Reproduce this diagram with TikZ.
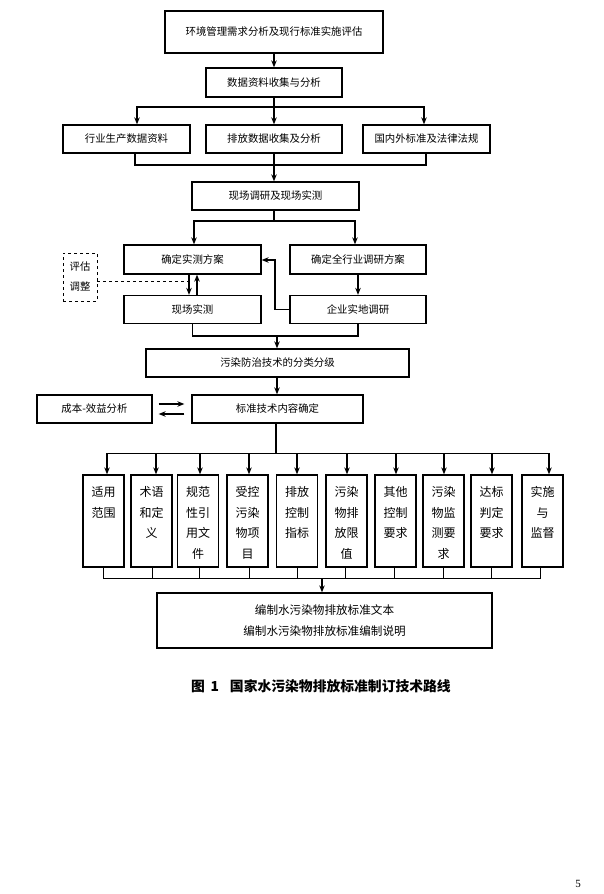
\documentclass[tikz,border=0pt]{standalone}
\usepackage{fontspec}
\setmainfont{Liberation Serif}
\newfontfamily\cjk{Noto Sans CJK SC}
\usetikzlibrary{arrows.meta,calc}
\begin{document}
\begin{tikzpicture}[x=1pt,y=-1pt,
  box/.style={draw, line width=1.3pt, inner sep=0pt, align=center,
    font=\cjk\fontsize{10.4}{20}\selectfont},
  gbox/.style={draw, line width=1.3pt, inner sep=0pt, minimum width=41pt, minimum height=92pt},
  gtext/.style={inner sep=0pt, anchor=north, align=center, font=\cjk\fontsize{12}{20.5}\selectfont},
  arr/.style={-{Stealth[length=7pt,width=5.5pt]}, line width=1.1pt},
  ln/.style={line width=1.1pt},
  thinln/.style={line width=0.8pt}]
\fill[white] (0,0) rectangle (604,894);
\useasboundingbox (0,0) rectangle (604,894);

% boxes
\node[box,minimum width=218pt,minimum height=42pt] (b1) at (274,32) {环境管理需求分析及现行标准实施评估};
\node[box,minimum width=136pt,minimum height=29pt] (b2) at (274,82.5) {数据资料收集与分析};
\node[box,minimum width=127pt,minimum height=28pt] (b3a) at (126.5,139) {行业生产数据资料};
\node[box,minimum width=136pt,minimum height=28pt] (b3b) at (274,139) {排放数据收集及分析};
\node[box,minimum width=127pt,minimum height=28pt] (b3c) at (426.5,139) {国内外标准及法律法规};
\node[box,minimum width=167pt,minimum height=28pt] (b4) at (275.5,196) {现场调研及现场实测};
\node[box,minimum width=137pt,minimum height=29pt] (b5a) at (192.5,259.5) {确定实测方案};
\node[box,minimum width=136pt,minimum height=29pt] (b5b) at (358,259.5) {确定全行业调研方案};
\node[box,minimum width=137pt,minimum height=28pt] (b6a) at (192.5,309.5) {现场实测};
\node[box,minimum width=136pt,minimum height=28pt] (b6b) at (358,309.5) {企业实地调研};
\node[box,dashed,line width=0.9pt,minimum width=34pt,minimum height=48pt] (pg) at (80,277) {评估\\调整};
\node[box,minimum width=263pt,minimum height=28pt] (b7) at (277.5,363) {污染防治技术的分类分级};
\node[box,minimum width=171pt,minimum height=28pt] (b8) at (277.5,409) {标准技术内容确定};
\node[box,minimum width=115pt,minimum height=28pt] (b9) at (94.5,409) {成本-效益分析};

% grid boxes
\node[gbox] (g1) at (103.5,521) {};
\node[gbox] (g2) at (151.5,521) {};
\node[gbox] (g3) at (198,521) {};
\node[gbox] (g4) at (247.5,521) {};
\node[gbox] (g5) at (297,521) {};
\node[gbox] (g6) at (346.5,521) {};
\node[gbox] (g7) at (395.5,521) {};
\node[gbox] (g8) at (443.5,521) {};
\node[gbox] (g9) at (491.5,521) {};
\node[gbox] (g10) at (542.5,521) {};
\node[gtext] (t1) at ($(g1.north)+(0,12)$) {适用\\范围};
\node[gtext] (t2) at ($(g2.north)+(0,12)$) {术语\\和定\\义};
\node[gtext] (t3) at ($(g3.north)+(0,12)$) {规范\\性引\\用文\\件};
\node[gtext] (t4) at ($(g4.north)+(0,12)$) {受控\\污染\\物项\\目};
\node[gtext] (t5) at ($(g5.north)+(0,12)$) {排放\\控制\\指标};
\node[gtext] (t6) at ($(g6.north)+(0,12)$) {污染\\物排\\放限\\值};
\node[gtext] (t7) at ($(g7.north)+(0,12)$) {其他\\控制\\要求};
\node[gtext] (t8) at ($(g8.north)+(0,12)$) {污染\\物监\\测要\\求};
\node[gtext] (t9) at ($(g9.north)+(0,12)$) {达标\\判定\\要求};
\node[gtext] (t10) at ($(g10.north)+(0,12)$) {实施\\与\\监督};

\node[box,minimum width=335pt,minimum height=55pt,font=\cjk\fontsize{11.6}{21}\selectfont] (fin) at (324.5,620.5)
  {编制水污染物排放标准文本\\编制水污染物排放标准编制说明};
\node[inner sep=0pt,font=\cjk\bfseries\fontsize{13.8}{15}\selectfont] (cap) at (321,686) {图\hspace{0.4em}1\hspace{0.8em}国家水污染物排放标准制订技术路线};
\node[inner sep=0pt,font=\fontsize{11}{12}\selectfont] (pn) at (578,884) {5};

% connectors
\draw[arr] (b1.south) -- (b2.north);
\coordinate (j1) at (274,107);
\draw[ln] (b2.south) -- (j1);
\draw[arr] (j1) -- (b3b.north);
\draw[arr] (j1) -| ([xshift=10.5pt]b3a.north);
\draw[arr] (j1) -| ([xshift=-2.5pt]b3c.north);
\coordinate (j2) at (274,165);
\draw[ln] ([xshift=8.5pt]b3a.south) |- (j2) -| ([xshift=-0.5pt]b3c.south);
\draw[arr] (b3b.south) -- (b3b.south |- b4.north);
\coordinate (j3) at (274,221);
\draw[ln] (j3 |- b4.south) -- (j3);
\draw[arr] (j3) -| ([xshift=1.5pt]b5a.north);
\draw[arr] (j3) -| ([xshift=-3pt]b5b.north);
\draw[arr] (b5b.south) -- (b6b.north);
\coordinate (j4) at (275,260);
\draw[arr] (b6b.west) -| (j4) -- (b5a.east |- j4);
\draw[arr] ([xshift=-3.5pt]b5a.south) -- ([xshift=-3.5pt]b6a.north);
\draw[arr] ([xshift=4.5pt]b6a.north) -- ([xshift=4.5pt]b5a.south);
\coordinate (d1) at (189,281);
\draw[dashed,line width=0.8pt] (pg.east |- d1) -- (d1);
\coordinate (j5) at (277,336);
\draw[ln] (b6a.south) |- (j5) -| (b6b.south);
\draw[arr] (j5) -- (b7.north -| j5);
\draw[arr] (b7.south -| j5) -- (b8.north -| j5);
\draw[arr] ([xshift=6pt,yshift=5pt]b9.east) -- ([xshift=-7pt,yshift=5pt]b8.west);
\draw[arr] ([xshift=-7pt,yshift=-5pt]b8.west) -- ([xshift=6pt,yshift=-5pt]b9.east);
\coordinate (j6) at (276,454);
\draw[ln] (j6 |- b8.south) -- (j6);
\draw[ln] ($(g1.north)+(3.5,-21)$) -- ($(g10.north)+(6.5,-21)$);
\foreach \n/\o in {g1/3.5,g2/4.5,g3/2,g4/1.5,g5/0,g6/0.5,g7/0.5,g8/0.5,g9/0.5,g10/6.5}
  \draw[arr] ($(\n.north)+(\o,-21)$) -- ($(\n.north)+(\o,0)$);
\foreach \n/\o in {g1/-0.5,g2/0.5,g3/1,g4/1.5,g5/0,g6/-1.5,g7/-1.5,g8/-0.5,g9/-0.5,g10/-2.5}
  \draw[thinln] ($(\n.south)+(\o,0)$) -- ($(\n.south)+(\o,11)$);
\draw[thinln] ($(g1.south)+(-0.5,11)$) -- ($(g10.south)+(-2.5,11)$);
\coordinate (j7) at (322,578);
\draw[arr] (j7) -- (fin.north -| j7);
\end{tikzpicture}
\end{document}
